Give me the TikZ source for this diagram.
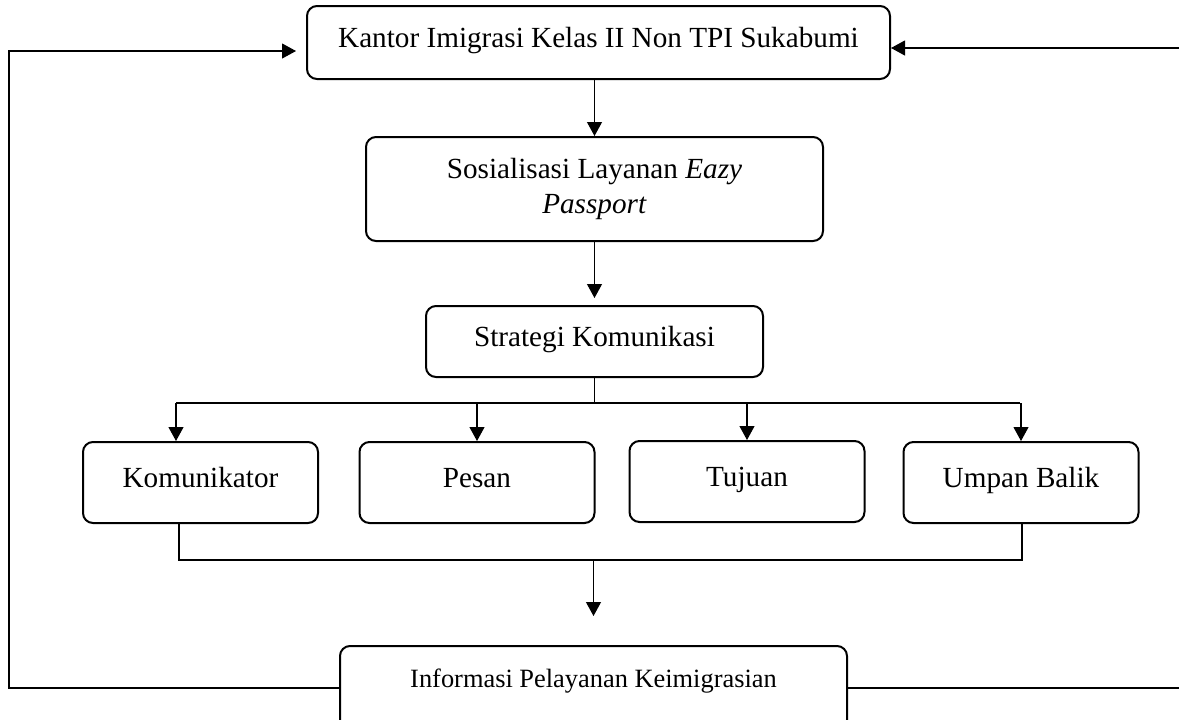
\documentclass[tikz,border=0pt]{standalone}
\usepackage{fontspec}
\setmainfont{Liberation Serif}
\usetikzlibrary{arrows.meta}

\begin{document}
\begin{tikzpicture}[x=0.5pt,y=-0.5pt,
  kotak/.style={draw, line width=1pt, rounded corners=5pt, inner sep=0pt,
    font=\fontsize{14.6pt}{17.5pt}\selectfont},
  satu/.style={text height=10pt, text depth=4.8pt},
  garis/.style={line width=0.55pt},
  panah/.style={line width=0.55pt, -{Triangle[length=7pt,width=7.5pt]}}]
\useasboundingbox (0,0) rectangle (1179,719);

% kotak
\node[kotak, satu, minimum width=291.5pt, minimum height=36.5pt] (kantor) at (598.5,42.5)
  {Kantor Imigrasi Kelas II Non TPI Sukabumi};
\node[kotak, align=center, minimum width=228.5pt, minimum height=52pt] (sosialisasi) at (594.5,189)
  {Sosialisasi Layanan \textit{Eazy}\\\textit{Passport}};
\node[kotak, satu, minimum width=168.5pt, minimum height=35.5pt] (strategi) at (594.5,341.5)
  {Strategi Komunikasi};
\node[kotak, satu, minimum width=117.5pt, minimum height=40.5pt] (komunikator) at (200.5,482.5) {Komunikator};
\node[kotak, satu, minimum width=117.5pt, minimum height=40.5pt] (pesan) at (477,482.5) {Pesan};
\node[kotak, satu, minimum width=117.5pt, minimum height=40.5pt] (tujuan) at (747,481.5) {Tujuan};
\node[kotak, satu, minimum width=117.5pt, minimum height=40.5pt] (umpan) at (1021,482.5) {Umpan Balik};
\node[kotak, font=\fontsize{13.2pt}{16pt}\selectfont, text height=9pt, text depth=9.8pt,
  minimum width=253.5pt, minimum height=42pt] (informasi) at (593.5,688)
  {Informasi Pelayanan Keimigrasian};

% alur ke bawah
\draw[panah] (kantor.south -| sosialisasi.north) -- (sosialisasi.north);
\draw[panah, shorten >=3.5pt] (sosialisasi) -- (strategi);

% cabang ke empat kotak
\coordinate (cabang1) at (176,403);
\coordinate (cabang4) at (1020,403);
\draw[garis] (cabang1) -- (cabang4);
\draw[garis] (strategi) -- (strategi |- cabang1);
\draw[panah] (cabang1) -- (cabang1 |- komunikator.north);
\foreach \n in {pesan,tujuan,umpan}
  \draw[panah] (\n.north |- cabang1) -- (\n.north);

% kumpul ke informasi
\coordinate (kumpul1) at (179,560);
\coordinate (kumpul4) at (1022,560);
\draw[garis] (komunikator.south -| kumpul1) -- (kumpul1) -- (kumpul4) -- (umpan.south -| kumpul4);
\draw[panah, shorten >=14.5pt] (kumpul1 -| informasi.north) -- (informasi.north);

% umpan balik ke kantor
\coordinate (kiri) at (9,51);
\coordinate (kanan) at (1179,48);
\draw[panah, shorten >=5pt] (informasi.west) -| (kiri) -- (kiri -| kantor.west);
\draw[garis] (informasi.east) -- (informasi.east -| kanan);
\draw[panah] (kanan) -- (kanan -| kantor.east);
\end{tikzpicture}
\end{document}
